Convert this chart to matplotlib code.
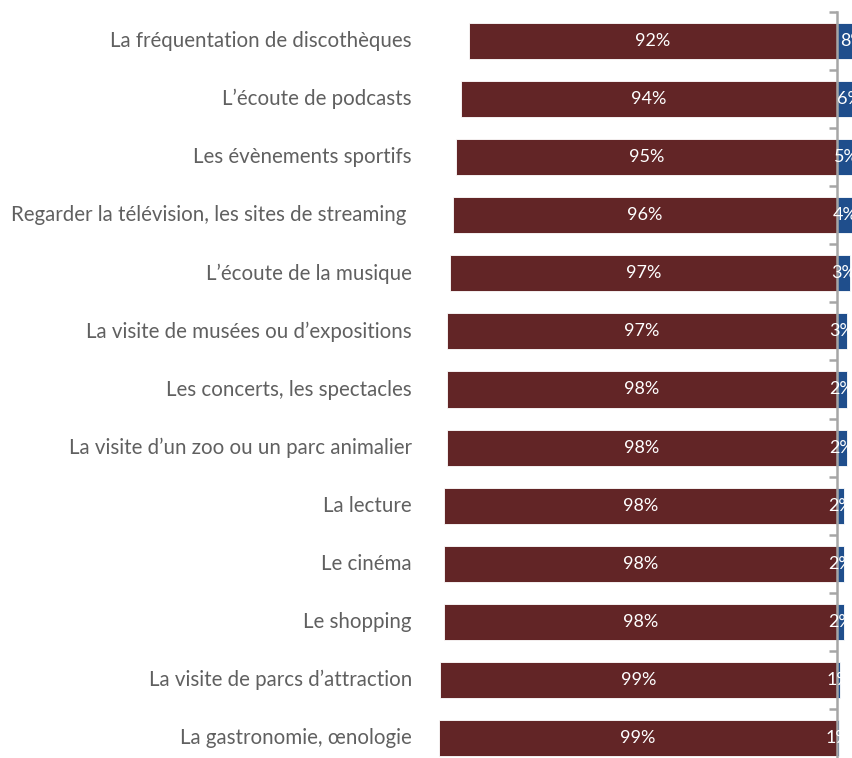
import matplotlib
matplotlib.use("Agg")
import matplotlib.pyplot as plt
import numpy as np

categories = [
    "La fréquentation de discothèques",
    "L’écoute de podcasts",
    "Les évènements sportifs",
    "Regarder la télévision, les sites de streaming ",
    "L’écoute de la musique",
    "La visite de musées ou d’expositions",
    "Les concerts, les spectacles",
    "La visite d’un zoo ou un parc animalier",
    "La lecture",
    "Le cinéma",
    "Le shopping",
    "La visite de parcs d’attraction",
    "La gastronomie, œnologie",
]
share_yes = [92.0, 94.0, 95.25, 96.0, 96.75, 97.5, 97.5, 97.5, 98.25, 98.25, 98.25, 99.25, 99.5]
share_no = [100 - v for v in share_yes]
labels_yes = ["92%", "94%", "95%", "96%", "97%", "97%", "98%", "98%", "98%", "98%", "98%", "99%", "99%"]
labels_no = ["8%", "6%", "5%", "4%", "3%", "3%", "2%", "2%", "2%", "2%", "2%", "1%", "1%"]

BROWN = "#622526"
BLUE = "#1f4e8c"
GRAY = "#a6a6a6"
TEXT = "#606060"

plt.rcParams['font.family'] = ['Lato', 'DejaVu Sans']

W, H = 853, 758
fig = plt.figure(figsize=(W / 100, H / 100), dpi=100)
left = 437 / W
width = (853 - 437) / W
top_px, bot_px = 12, 767
ax = fig.add_axes([left, (H - bot_px) / H, width, (bot_px - top_px) / H])

n = len(categories)
y = np.arange(n)
ax.barh(y, [-v for v in share_yes], height=0.62, color=BROWN, edgecolor="white", linewidth=0.6, zorder=2)
ax.barh(y, share_no, height=0.62, color=BLUE, edgecolor="white", linewidth=0.6, zorder=2)

for i in range(n):
    ax.text(-share_yes[i] / 2, y[i], labels_yes[i], ha="center", va="center",
            color="white", fontsize=13, zorder=4)
    ax.text(share_no[i] / 2, y[i], labels_no[i], ha="center", va="center",
            color="white", fontsize=13, zorder=4, clip_on=False)

ax.set_xlim(-100, 4)
ax.set_ylim(n - 0.5, -0.5)

for s in ["top", "right", "bottom"]:
    ax.spines[s].set_visible(False)
ax.spines["left"].set_position(("data", 0))
ax.spines["left"].set_color(GRAY)
ax.spines["left"].set_linewidth(1.8)
ax.spines["left"].set_zorder(3)
ax.set_xticks([])
ax.set_yticks([])
ax.set_yticks(np.arange(-0.5, n, 1.0), minor=True)
ax.tick_params(axis="y", which="minor", direction="out", length=6, width=1.8, color=GRAY, labelleft=False)

for i in range(n):
    ax.text(-0.0605, y[i], categories[i], transform=ax.get_yaxis_transform(),
            ha="right", va="center", fontsize=14.8, color=TEXT)

fig.savefig("out.png", dpi=100)
